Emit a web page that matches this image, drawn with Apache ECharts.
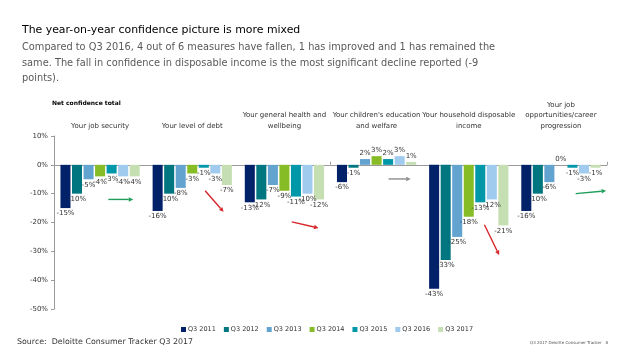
<!DOCTYPE html>
<html><head><meta charset="utf-8">
<script src="https://cdn.jsdelivr.net/npm/echarts@6/dist/echarts.min.js"></script>
<style>html,body{margin:0;padding:0;background:#fff}#c{width:638px;height:359px}</style>
</head><body><div id="c"></div>
<script>
var categories = ["Your job security", "Your level of debt", "Your general health and\nwellbeing", "Your children's education\nand welfare", "Your household disposable\nincome", "Your job\nopportunities/career\nprogression"];
var seriesNames = ["Q3 2011", "Q3 2012", "Q3 2013", "Q3 2014", "Q3 2015", "Q3 2016", "Q3 2017"];
var q3_2011 = [-15, -16, -13, -6, -43, -16];
var q3_2012 = [-10, -10, -12, -1, -33, -10];
var q3_2013 = [-5, -8, -7, 2, -25, -6];
var q3_2014 = [-4, -3, -9, 3, -18, 0];
var q3_2015 = [-3, -1, -11, 2, -13, -1];
var q3_2016 = [-4, -3, -10, 3, -12, -3];
var q3_2017 = [-4, -7, -12, 1, -21, -1];
var yTicks = [10, 0, -10, -20, -30, -40, -50];
var colors = ["#012169", "#007680", "#62a3d0", "#86bc25", "#0097a9", "#a0cbef", "#c5dfb2"];
var allValues = [q3_2011, q3_2012, q3_2013, q3_2014, q3_2015, q3_2016, q3_2017];

var FONT = "DejaVu Sans";
var chart = echarts.init(document.getElementById('c'));

var series = seriesNames.map(function (name, i) {
  return {
    name: name, type: 'bar', xAxisIndex: 0, yAxisIndex: 0,
    barGap: '15%', barCategoryGap: '14%',
    itemStyle: { color: colors[i] },
    data: allValues[i].map(function (v) {
      return { value: v, label: { position: v >= 0 ? 'top' : 'bottom' } };
    }),
    label: { show: true, formatter: '{c}%', fontFamily: FONT, fontSize: 7, color: '#333', distance: 2 }
  };
});

chart.setOption({
  animation: false,
  color: colors,
  title: [
    { text: 'The year-on-year confidence picture is more mixed', left: 22, top: 25, padding: 0,
      textStyle: { fontFamily: FONT, fontSize: 10.9, fontWeight: 'normal', color: '#000' } },
    { text: 'Compared to Q3 2016, 4 out of 6 measures have fallen, 1 has improved and 1 has remained the\nsame. The fall in confidence in disposable income is the most significant decline reported (-9\npoints).',
      left: 22, top: 40, padding: 0,
      textStyle: { fontFamily: FONT, fontSize: 9.8, fontWeight: 'normal', color: '#595959', lineHeight: 15.5 } },
    { text: 'Net confidence total', left: 52, top: 100, padding: 0,
      textStyle: { fontFamily: FONT, fontSize: 6, fontWeight: 'bold', color: '#000' } },
    { text: 'Source:  Deloitte Consumer Tracker Q3 2017', left: 17, top: 338, padding: 0,
      textStyle: { fontFamily: FONT, fontSize: 7.9, fontWeight: 'normal', color: '#333' } },
    { text: 'Q3 2017 Deloitte Consumer Tracker   8', left: 530, top: 341, padding: 0,
      textStyle: { fontFamily: FONT, fontSize: 4, fontWeight: 'normal', color: '#555' } }
  ],
  legend: {
    data: seriesNames, left: 176, top: 321, itemWidth: 5, itemHeight: 5, itemGap: 8,
    icon: 'rect', textStyle: { fontFamily: FONT, fontSize: 6.5, color: '#333', padding: [0, 0, 0, -3] }
  },
  grid: { left: 54, right: 31, top: 136, bottom: 50, containLabel: false },
  xAxis: [
    { type: 'category', data: categories, position: 'bottom',
      axisLine: { onZero: true, lineStyle: { color: '#9a9a9a', width: 1 } },
      axisTick: { show: true, inside: true, length: 3, lineStyle: { color: '#9a9a9a' } },
      axisLabel: { show: false }, splitLine: { show: false } },
    { type: 'category', data: categories, position: 'top',
      axisLine: { show: false }, axisTick: { show: false },
      axisLabel: { interval: 0, fontFamily: FONT, fontSize: 7, color: '#333', lineHeight: 10.5, margin: 5 } }
  ],
  yAxis: {
    type: 'value', min: -50, max: 10, interval: 10,
    axisLine: { show: true, lineStyle: { color: '#9a9a9a' } },
    axisTick: { show: true, length: 3, lineStyle: { color: '#9a9a9a' } },
    splitLine: { show: false },
    axisLabel: { formatter: '{value}%', fontFamily: FONT, fontSize: 7, color: '#333', margin: 6 }
  },
  series: series
});

// trend arrows (annotations), in category-fraction / value coordinates
var arrows = [
  [0, 0.09, -12, 0.36, -12, '#1e9e5a'],
  [1, 0.14, -9, 0.34, -16.3, '#d7262b'],
  [2, 0.08, -19.8, 0.37, -21.9, '#d7262b'],
  [3, 0.13, -4.9, 0.37, -4.9, '#8c8c8c'],
  [4, 0.17, -20.8, 0.33, -31.3, '#d7262b'],
  [5, 0.16, -10, 0.49, -9, '#1e9e5a']
];
var c0 = chart.convertToPixel({ xAxisIndex: 0 }, 0);
var c1 = chart.convertToPixel({ xAxisIndex: 0 }, 1);
var cw = c1 - c0;
var gfx = [];
arrows.forEach(function (a) {
  var cx = chart.convertToPixel({ xAxisIndex: 0 }, a[0]);
  var x1 = cx + a[1] * cw, x2 = cx + a[3] * cw;
  var y1 = chart.convertToPixel({ yAxisIndex: 0 }, a[2]);
  var y2 = chart.convertToPixel({ yAxisIndex: 0 }, a[4]);
  var ang = Math.atan2(y2 - y1, x2 - x1);
  var hl = 4.5, hw = 2.2;
  var bx = x2 - hl * Math.cos(ang), by = y2 - hl * Math.sin(ang);
  gfx.push({ type: 'line', shape: { x1: x1, y1: y1, x2: bx, y2: by }, style: { stroke: a[5], lineWidth: 1.4 } });
  gfx.push({ type: 'polygon', shape: { points: [[x2, y2], [bx - hw * Math.sin(ang), by + hw * Math.cos(ang)], [bx + hw * Math.sin(ang), by - hw * Math.cos(ang)]] }, style: { fill: a[5] } });
});
chart.setOption({ graphic: gfx });
</script></body></html>
